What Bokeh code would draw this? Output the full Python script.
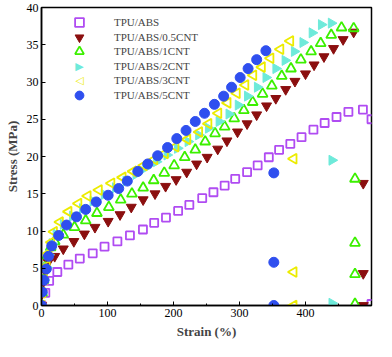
import math
from bokeh.plotting import figure
from bokeh.models import Legend, LegendItem, Range1d, SingleIntervalTicker, FixedTicker, Label
from bokeh.embed import file_html
from bokeh.resources import INLINE

# ---- data ----
labels = ["TPU/ABS", "TPU/ABS/0.5CNT", "TPU/ABS/1CNT", "TPU/ABS/2CNT", "TPU/ABS/3CNT", "TPU/ABS/5CNT"]
x_ticks = [0, 100, 200, 300, 400]
x_minor = [50, 150, 250, 350, 450]

abs_x = [0, 5.8, 11.6, 24, 40.7, 58, 77.6, 95.5, 115, 134, 153.7, 170.7, 188.6, 207, 224, 243.5, 260.5,
         277.5, 293.5, 311.5, 327.5, 344.4, 360, 377, 394, 412, 429, 447, 465, 487, 500, 500]
abs_y = [0, 1.7, 3.3, 4.5, 5.5, 6.3, 7.0, 7.9, 8.6, 9.4, 10.2, 11.1, 11.8, 12.7, 13.5, 14.4, 15.2,
         16.1, 17.0, 17.9, 18.8, 19.9, 20.9, 21.7, 22.6, 23.6, 24.5, 25.3, 26.0, 26.3, 25.0, 0.2]

c05_x = [0, 1, 3, 6, 10, 20, 33, 49, 65, 81, 101, 119, 136, 154, 172, 188, 204, 220, 235, 251, 267,
         281, 297, 311.5, 326, 341, 355, 370, 384, 400, 413, 428, 442.5, 457, 473, 487.5, 487.5, 487.5]
c05_y = [0, 1.6, 3.2, 4.6, 5.8, 6.6, 7.6, 8.6, 9.6, 10.5, 11.3, 12.2, 13.2, 14.2, 15.0, 16.0, 16.9, 17.9,
         19.0, 19.9, 21.0, 22.1, 23.3, 24.4, 25.6, 26.8, 27.8, 29.0, 30.1, 31.1, 32.3, 33.4, 34.5, 35.7,
         36.7, 16.4, 4.3, 0]

c1_x = [0, 1, 3, 5, 9, 14, 20, 33, 50, 67, 84, 102, 120, 137, 154, 170, 186, 201, 217, 233, 248, 263,
        277.5, 292, 306.6, 320, 335, 349, 364, 378, 393, 408.5, 423, 439, 454.6, 473, 475, 475, 475, 475]
c1_y = [0, 1.7, 3.4, 5.1, 6.7, 7.8, 8.6, 9.5, 10.5, 11.4, 12.4, 13.2, 14.2, 15.0, 15.8, 16.8, 17.8, 18.8,
        19.9, 20.9, 22.0, 23.1, 24.0, 25.1, 26.2, 27.3, 28.4, 29.5, 30.8, 31.8, 33.0, 34.1, 35.2, 36.3,
        37.3, 37.2, 17.0, 8.4, 4.2, 0.2]

c2_x = [0, 1, 4, 8, 11, 16, 22, 33, 47, 62, 78, 95, 112, 128, 143, 158, 174, 190, 206, 222, 238, 253,
        269, 284, 298, 312, 327, 340, 355, 369, 383, 396, 410, 424, 439, 440, 440]
c2_y = [0, 1.7, 3.4, 5.1, 6.8, 8.3, 9.6, 10.9, 12.0, 13.0, 14.0, 14.9, 15.8, 16.7, 17.6, 18.5, 19.3,
        20.2, 21.1, 22.0, 22.9, 23.8, 24.7, 25.7, 26.9, 28.1, 29.3, 30.6, 31.8, 32.9, 34.1, 35.3, 36.6,
        37.7, 37.9, 19.5, 0.3]

c3_x = [0, 1, 4, 8, 11, 15, 19, 28, 41, 56, 70, 87, 106, 123, 139, 155, 171, 187, 203, 221, 239, 253,
        268, 282, 296, 309, 321, 334, 347, 362, 377, 382, 382, 382]
c3_y = [0, 1.7, 3.5, 5.3, 7.0, 8.5, 9.9, 11.2, 12.6, 13.7, 14.7, 15.5, 16.4, 17.2, 18.0, 18.8, 19.6,
        20.4, 21.3, 22.3, 23.3, 24.4, 25.8, 27.2, 28.5, 29.6, 30.9, 32.0, 33.2, 34.4, 35.5, 19.7, 4.5, 0]

c5_x = [0, 1, 3.8, 7.3, 10.6, 15.5, 26, 38, 53, 67, 83, 101, 117, 130, 146, 161, 176, 191, 205, 219,
        233, 247, 262, 276, 288, 301, 313, 326, 340, 352, 352, 352]
c5_y = [0, 1.8, 3.4, 4.9, 6.6, 8.0, 9.4, 10.8, 11.9, 12.9, 13.9, 14.8, 15.7, 16.7, 18.0, 19.0, 20.1,
        21.2, 22.4, 23.5, 24.7, 25.8, 27.0, 28.1, 29.3, 30.6, 31.8, 33.0, 34.2, 17.8, 5.8, 0]

FONT = "Liberation Serif"
C_CYAN = "#6EEADA"
C_YEL = "#ECEC00"

p = figure(width=376, height=341, output_backend="svg", toolbar_location=None,
           x_range=Range1d(0, 500), y_range=Range1d(0, 40),
           min_border_left=41, min_border_right=5, min_border_top=7, min_border_bottom=36)
p.outline_line_color = "black"
p.outline_line_width = 1.5
p.xgrid.visible = False
p.ygrid.visible = False
p.background_fill_color = "white"

for ax in (p.xaxis[0], p.yaxis[0]):
    ax.axis_line_width = 1.5
    ax.major_tick_in = 4
    ax.major_tick_out = 0
    ax.minor_tick_in = 2
    ax.minor_tick_out = 0
    ax.major_tick_line_width = 1
    ax.major_label_text_font = FONT
    ax.major_label_text_font_size = "12px"
    ax.major_label_text_color = "black"
    ax.axis_label_text_font = FONT
    ax.axis_label_text_font_style = "bold"
    ax.axis_label_text_font_size = "13px"
    ax.major_label_standoff = 3
    ax.axis_label_standoff = 4

p.xaxis[0].ticker = FixedTicker(ticks=x_ticks, minor_ticks=x_minor)
p.yaxis[0].ticker = SingleIntervalTicker(interval=5, num_minor_ticks=0)
p.xaxis[0].axis_label = "Strain (%)"
p.yaxis[0].axis_label = "Stress (MPa)"

r_abs = p.scatter(abs_x, abs_y, marker="square", size=8, fill_color=None,
                  line_color="#B04CF2", line_width=1.8)
r05 = p.scatter(c05_x, c05_y, marker="inverted_triangle", size=10, fill_color="#8B0F0F",
                line_color="#8B0F0F", line_width=1)
r1 = p.scatter(c1_x, c1_y, marker="triangle", size=10, fill_color=None,
               line_color="#3CF000", line_width=1.8)
r2 = p.scatter(c2_x, c2_y, marker="triangle", size=10, angle=-math.pi / 2, fill_color=C_CYAN,
               line_color=C_CYAN, line_width=1)
r3 = p.scatter(c3_x, c3_y, marker="triangle", size=10, angle=math.pi / 2, fill_color=None,
               line_color=C_YEL, line_width=1.8)
r5 = p.scatter(c5_x, c5_y, marker="circle", size=10, fill_color="#2F4FEF",
               line_color="#2F4FEF", line_width=1)

# legend keys for the rotated triangles are drawn as text symbols (Bokeh legends ignore angle)
blank = p.scatter([], [], marker="square", fill_alpha=0, line_alpha=0)

legend_renderers = [r_abs, r05, r1, blank, blank, r5]
items = [LegendItem(label=l, renderers=[r]) for l, r in zip(labels, legend_renderers)]

LEG_X = 27          # left of legend glyph box (screen px from frame left)
GLYPH = 22
SP = 7
TOP_A, TOP_B = 214, 199   # bottoms of the two interleaved legend columns


def make_legend(its, loc):
    return Legend(items=its, location=loc, padding=0, margin=0, spacing=SP,
                  glyph_width=GLYPH, glyph_height=GLYPH, label_height=GLYPH, label_standoff=24,
                  label_text_font=FONT, label_text_font_size="11px",
                  border_line_color=None, background_fill_alpha=0)


p.add_layout(make_legend(items[0::2], (LEG_X, TOP_A)))
p.add_layout(make_legend(items[1::2], (LEG_X, TOP_B)))

# centres of legend rows (screen px from frame bottom)
h = 3 * GLYPH + 2 * SP
row_y = {}
for k, i in enumerate(range(0, 6, 2)):
    row_y[i] = TOP_A + h - GLYPH / 2 - k * (GLYPH + SP)
for k, i in enumerate(range(1, 6, 2)):
    row_y[i] = TOP_B + h - GLYPH / 2 - k * (GLYPH + SP)

for i, sym, col, style in [(3, "\u25B6", C_CYAN, "normal"), (4, "\u25C1", C_YEL, "bold")]:
    p.add_layout(Label(x=LEG_X + GLYPH / 2, y=row_y[i], x_units="screen", y_units="screen",
                       text=sym, text_color=col, text_font="DejaVu Sans", text_font_size="11px",
                       text_font_style=style, text_align="center", text_baseline="middle"))

open("out.html", "w").write(file_html(p, INLINE))
